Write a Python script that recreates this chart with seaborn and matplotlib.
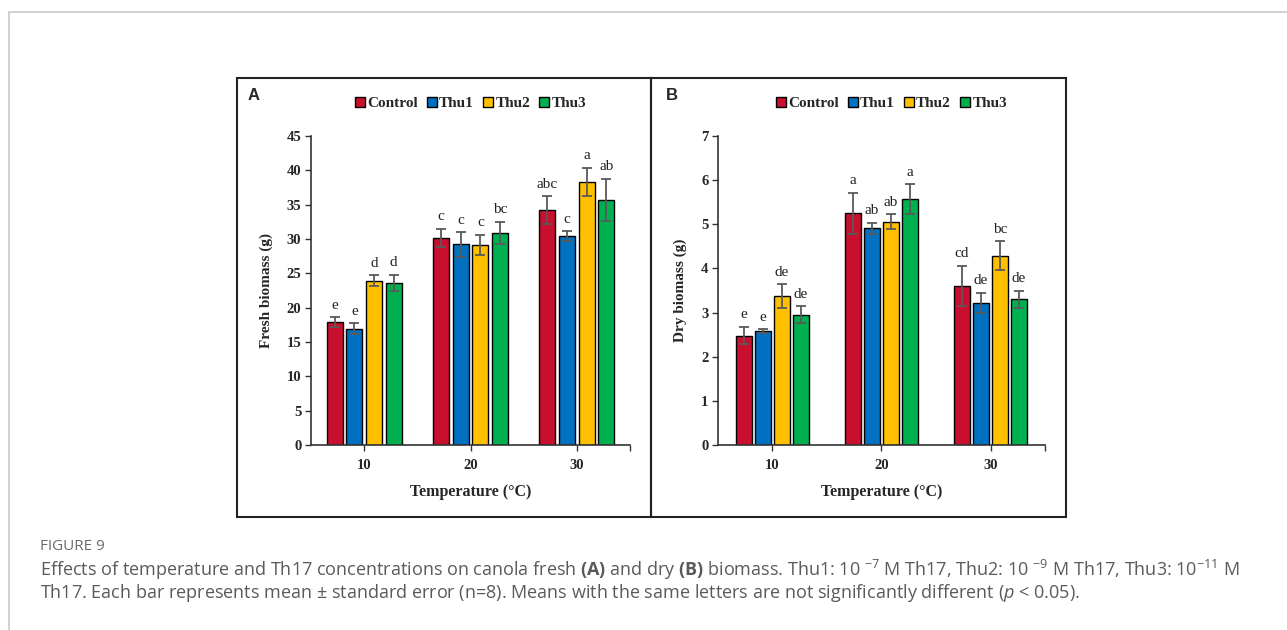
import matplotlib
matplotlib.use("Agg")
import matplotlib.pyplot as plt
from matplotlib.patches import Patch, Rectangle
from matplotlib.lines import Line2D
import numpy as np
import pandas as pd
import seaborn as sns

# ---- data -------------------------------------------------------------
temperatures = ["10", "20", "30"]
treatments = ["Control", "Thu1", "Thu2", "Thu3"]
colors = ["#C8102E", "#0070C0", "#FFC000", "#00B050"]

fresh_mean = {
    "Control": [17.9, 30.2, 34.2],
    "Thu1": [16.9, 29.2, 30.4],
    "Thu2": [23.9, 29.1, 38.3],
    "Thu3": [23.6, 30.9, 35.7],
}
fresh_se = {
    "Control": [0.7, 1.3, 2.0],
    "Thu1": [0.8, 1.8, 0.7],
    "Thu2": [0.8, 1.5, 2.1],
    "Thu3": [1.2, 1.6, 3.1],
}
fresh_letters = {
    "Control": ["e", "c", "abc"],
    "Thu1": ["e", "c", "c"],
    "Thu2": ["d", "c", "a"],
    "Thu3": ["d", "bc", "ab"],
}

dry_mean = {
    "Control": [2.48, 5.25, 3.60],
    "Thu1": [2.58, 4.91, 3.22],
    "Thu2": [3.37, 5.06, 4.29],
    "Thu3": [2.95, 5.57, 3.30],
}
dry_se = {
    "Control": [0.20, 0.46, 0.46],
    "Thu1": [0.04, 0.12, 0.23],
    "Thu2": [0.27, 0.17, 0.33],
    "Thu3": [0.19, 0.34, 0.20],
}
dry_letters = {
    "Control": ["e", "a", "cd"],
    "Thu1": ["e", "ab", "de"],
    "Thu2": ["de", "ab", "bc"],
    "Thu3": ["de", "a", "de"],
}

# ---- style ------------------------------------------------------------
sns.set_theme(style="white")
plt.rcParams["font.family"] = ["Liberation Serif", "DejaVu Serif"]
plt.rcParams["mathtext.fontset"] = "custom"
plt.rcParams["mathtext.rm"] = "Open Sans"
plt.rcParams["mathtext.it"] = "Open Sans:italic"
plt.rcParams["mathtext.bf"] = "Open Sans:bold"

W, H = 1287, 630
fig = plt.figure(figsize=(W / 100, H / 100), dpi=100)
fig.patch.set_facecolor("white")


def fx(px):
    return px / W


def fy(py):
    return (H - py) / H


def long_frame(means):
    rows = []
    for t in treatments:
        for i, temp in enumerate(temperatures):
            rows.append({"Temperature": temp, "Treatment": t, "Value": means[t][i]})
    return pd.DataFrame(rows)


def draw_panel(ax, means, errs, letters, ymax, ystep, ylabel, width, legend_x):
    df = long_frame(means)
    sns.barplot(
        data=df, x="Temperature", y="Value", hue="Treatment",
        order=temperatures, hue_order=treatments, palette=colors,
        errorbar=None, width=width, gap=0.18, edgecolor="black",
        linewidth=1.0, saturation=1, legend=False, ax=ax,
    )
    for k, t in enumerate(treatments):
        cont = ax.containers[k]
        xs = np.array([b.get_x() + b.get_width() / 2 for b in cont])
        hs = np.array([b.get_height() for b in cont])
        e = np.array(errs[t])
        ax.errorbar(xs, hs, yerr=e, fmt="none", ecolor="#595959",
                    elinewidth=1.3, capsize=3.5, capthick=1.3, zorder=5)
        for x, h, ee, lab in zip(xs, hs, e, letters[t]):
            ax.annotate(lab, (x, h + ee), xytext=(0, 4), textcoords="offset points",
                        ha="center", va="bottom", fontsize=11,
                        family=["Liberation Serif"], color="#222222")

    ax.set_xlim(-0.5, 2.5)
    ax.set_ylim(0, ymax)
    ax.set_yticks(np.arange(0, ymax + 0.001, ystep))
    ax.set_yticklabels([f"{v:g}" for v in np.arange(0, ymax + 0.001, ystep)])
    ax.set_xticks(range(3))
    ax.set_xticks([2.5], minor=True)
    ax.set_xticklabels(temperatures)
    for lbl in ax.get_xticklabels() + ax.get_yticklabels():
        lbl.set_fontweight("bold")
        lbl.set_fontsize(10.5)
    ax.tick_params(axis="both", which="both", direction="out", length=4,
                   width=1.0, color="#333333", left=True, bottom=True, pad=3)
    ax.tick_params(axis="x", pad=6)
    for s in ["top", "right"]:
        ax.spines[s].set_visible(False)
    for s in ["left", "bottom"]:
        ax.spines[s].set_color("#333333")
        ax.spines[s].set_linewidth(1.2)
    ax.set_ylabel(ylabel, fontsize=11, fontweight="bold", labelpad=10)
    ax.set_xlabel("Temperature (°C)", fontsize=11.5, fontweight="bold", labelpad=9)
    ax.set_facecolor("none")

    handles = [Patch(facecolor=c, edgecolor="black", linewidth=1.0, label=t)
               for c, t in zip(colors, treatments)]
    ax.legend(handles=handles, ncol=4, loc="center", bbox_to_anchor=(legend_x, 1.105),
              frameon=False, handlelength=0.65, handleheight=0.65,
              handletextpad=0.15, columnspacing=0.6, borderpad=0,
              prop={"family": "Liberation Serif", "weight": "bold", "size": 11})


ax_a = fig.add_axes([fx(311), fy(445), fx(630) - fx(311), fy(136) - fy(445)])
ax_b = fig.add_axes([fx(718), fy(445), fx(1045) - fx(718), fy(136) - fy(445)])

draw_panel(ax_a, fresh_mean, fresh_se, fresh_letters, 45, 5,
           "Fresh biomass (g)", 0.74, 0.50)
draw_panel(ax_b, dry_mean, dry_se, dry_letters, 7, 1,
           "Dry biomass (g)", 0.70, 0.53)

# panel frames
for x0, x1 in [(237, 651), (651, 1066)]:
    fig.add_artist(Rectangle((fx(x0), fy(517)), fx(x1) - fx(x0), fy(78) - fy(517),
                             transform=fig.transFigure, fill=False,
                             edgecolor="#222222", linewidth=1.5))
fig.text(fx(248), fy(96), "A", fontsize=12, fontweight="bold",
         family=["Liberation Sans"], ha="left", va="center")
fig.text(fx(666), fy(96), "B", fontsize=12, fontweight="bold",
         family=["Liberation Sans"], ha="left", va="center")

# page rules
fig.add_artist(Line2D([fx(9), 1], [fy(12), fy(12)], transform=fig.transFigure,
                      color="#c8c8c8", linewidth=1.2))
fig.add_artist(Line2D([fx(9), fx(9)], [fy(12), 0], transform=fig.transFigure,
                      color="#c8c8c8", linewidth=1.2))

# caption
cap_color = "#5a5a5a"
fig.text(fx(40), fy(547), "FIGURE 9", fontsize=11, family=["Open Sans"],
         color="#6a6a6a", ha="left", va="center")
line1 = ("Effects of temperature and Th17 concentrations on canola fresh $\\mathbf{(A)}$ "
         "and dry $\\mathbf{(B)}$ biomass. Thu1: 10 $^{-7}$ M Th17, Thu2: 10 $^{-9}$ M Th17, "
         "Thu3: 10$^{-11}$ M")
line2 = ("Th17. Each bar represents mean ± standard error (n=8). Means with the same "
         "letters are not significantly different ($\\mathit{p}$ < 0.05).")
fig.text(fx(40), fy(570), line1, fontsize=13, family=["Open Sans"], color=cap_color,
         ha="left", va="center")
fig.text(fx(40), fy(593), line2, fontsize=13, family=["Open Sans"], color=cap_color,
         ha="left", va="center")

fig.savefig("out.png", dpi=100, facecolor="white")
